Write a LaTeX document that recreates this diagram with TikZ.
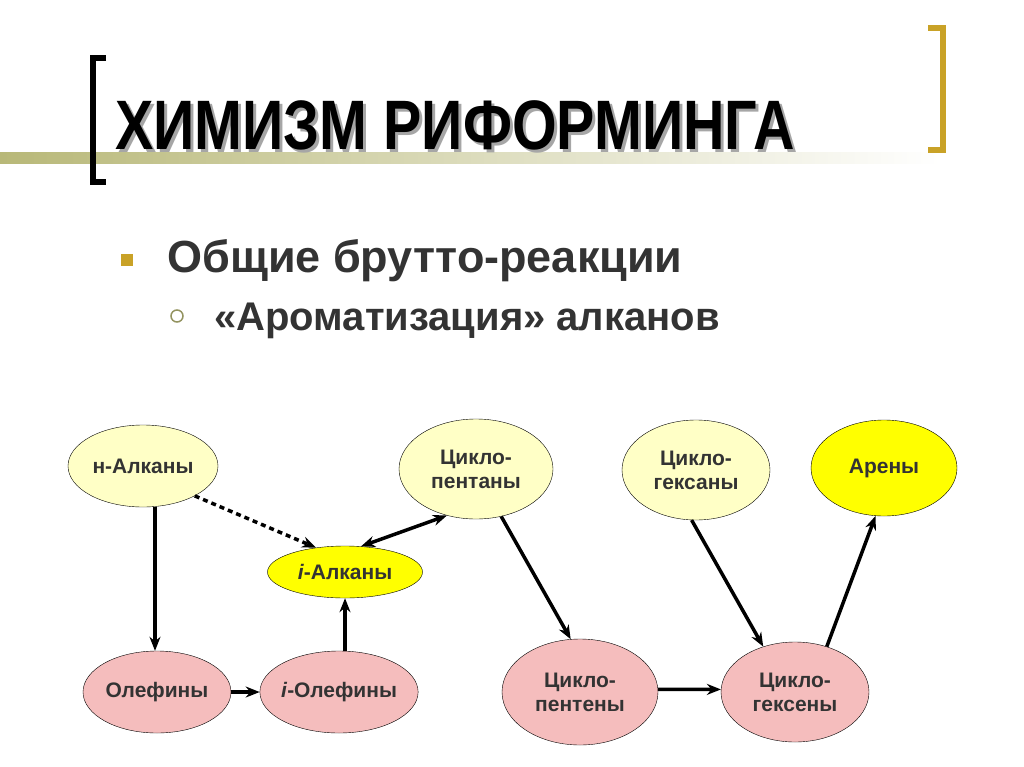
\documentclass[tikz,border=0pt]{standalone}
\usepackage{fontspec}
\setmainfont{Liberation Sans}
\usetikzlibrary{shapes.geometric,arrows.meta,positioning}
\definecolor{lightyel}{HTML}{FFFFC6}
\definecolor{brightyel}{HTML}{FFFF00}
\definecolor{pinkfill}{HTML}{F5BDBD}
\definecolor{gold}{HTML}{C9A227}
\definecolor{olive}{HTML}{B8B878}
\definecolor{textgrey}{HTML}{333333}
\tikzset{
  chem/.style={ellipse, draw, thin, font=\bfseries\fontsize{21}{24}\selectfont, text=textgrey, align=center, inner sep=-2pt},
  pale/.style={chem, fill=lightyel},
  bright/.style={chem, fill=brightyel},
  pinky/.style={chem, fill=pinkfill},
  link/.style={line width=3.5pt, -{Stealth[length=14pt,width=11pt]}},
}
\newcommand{\titletext}{\scalebox{0.82}[1]{ХИМИЗМ РИФОРМИНГА}}
\begin{document}
\begin{tikzpicture}[x=1pt,y=-1pt]
    \useasboundingbox (0,0) rectangle (1024,767);
    % Title
    \shade[left color=olive, right color=white] (0,153) rectangle (940,164);
    \draw[line width=6pt] (106,58) -- (93,58) -- (93,182) -- (106,182);
    \draw[line width=6pt, gold] (928,28) -- (943,28) -- (943,150) -- (928,150);
    \node[anchor=base west, inner sep=0pt, text=gray!70, font=\bfseries\fontsize{70}{74}\selectfont] at (118,153) {\titletext};
    \node[anchor=base west, inner sep=0pt, font=\bfseries\fontsize{70}{74}\selectfont] at (115,150) {\titletext};
    % Bullets
    \fill[gold] (121,254) rectangle (133,266);
    \node[anchor=base west, inner sep=0pt, text=textgrey, font=\bfseries\fontsize{45}{48}\selectfont] at (167,272) {Общие брутто-реакции};
    \draw[olive!80!black, line width=1.5pt] (177,316) circle (6);
    \node[anchor=base west, inner sep=0pt, text=textgrey, font=\bfseries\fontsize{40}{44}\selectfont] at (214,330) {«Ароматизация» алканов};
    % Nodes
    \node[pale, minimum width=150pt, minimum height=82pt] (nalk) at (143,466) {н-Алканы};
    \node[bright, minimum width=155pt, minimum height=52pt] (ialk) at (345,572) {\textit{i}-Алканы};
    \node[pale, minimum width=154pt, minimum height=100pt] (cpan) at (476,469) {Цикло-\\пентаны};
    \node[pale, minimum width=148pt, minimum height=100pt] (chan) at (696,470) {Цикло-\\гексаны};
    \node[bright, minimum width=146pt, minimum height=96pt] (aren) at (884,468) {Арены};
    \node[pinky, minimum width=148pt, minimum height=82pt] (olef) at (157,692) {Олефины};
    \node[pinky, minimum width=150pt, minimum height=82pt] (iolef) at (339,692) {\textit{i}-Олефины};
    \node[pinky, minimum width=156pt, minimum height=106pt] (cpen) at (580,692) {Цикло-\\пентены};
    \node[pinky, minimum width=148pt, minimum height=100pt] (chen) at (795,692) {Цикло-\\гексены};
    % Connectors
    \draw[link] (nalk.south -| 155,0) -- (olef.north -| 155,0);
    \draw[link, dash pattern=on 5pt off 4pt] (nalk.-30) -- (ialk.140);
    \draw[link, {Stealth[length=14pt,width=11pt]}-{Stealth[length=14pt,width=11pt]}] (ialk.58) -- (cpan.-122);
    \draw[link] (olef) -- (iolef);
    \draw[link] (iolef.north -| 345,0) -- (ialk.south -| 345,0);
    \draw[link] (cpan.-62) -- (cpen.100);
    \draw[link] (cpen.2) -- (chen.178);
    \draw[link] (chan.-95) -- (chen.125);
    \draw[link] (chen.55) -- (aren.-100);
\end{tikzpicture}
\end{document}
